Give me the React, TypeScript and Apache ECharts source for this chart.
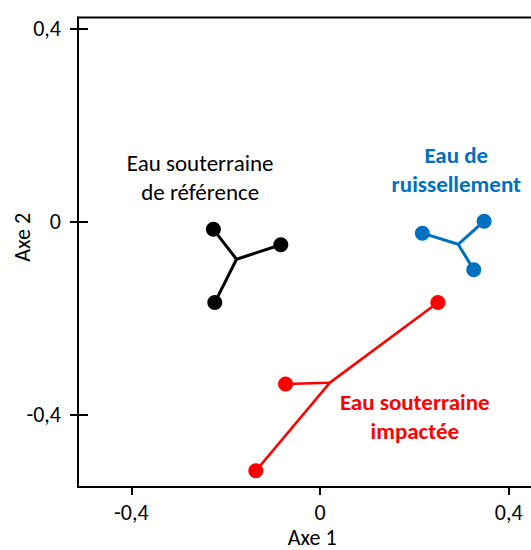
import React, { useEffect, useRef } from "react";
import * as echarts from "echarts";

// Tick values
const xTicks = [-0.4, 0, 0.4];
const yTicks = [-0.4, 0, 0.4];

// Groups: centroid + member points
const refCenter = [-0.177, -0.078];
const refPoints = [
  [-0.226, -0.016],
  [-0.083, -0.048],
  [-0.223, -0.168],
];
const runoffCenter = [0.293, -0.047];
const runoffPoints = [
  [0.217, -0.024],
  [0.348, 0.001],
  [0.326, -0.1],
];
const impactCenter = [0.021, -0.334];
const impactPoints = [
  [0.25, -0.168],
  [-0.073, -0.337],
  [-0.136, -0.517],
];

// Group labels
const groupNames = [
  "Eau souterraine\nde référence",
  "Eau de\nruissellement",
  "Eau souterraine\nimpactée",
];
const groupLabelPos = [
  [-0.254, 0.092],
  [0.289, 0.108],
  [0.201, -0.405],
];
const groupColors = ["#000000", "#0070C0", "#FF0000"];
const groupBold = [false, true, true];

const FONT = "Carlito, Lato, 'Open Sans', sans-serif";

export default function App() {
  const ref = useRef<HTMLDivElement>(null);
  useEffect(() => {
    if (!ref.current) return;
    const chart = echarts.init(ref.current, null, { renderer: "svg" });
    const fmt = (v: number) => String(Math.round(v * 10) / 10).replace(".", ",");
    const groups = [
      { c: refCenter, p: refPoints },
      { c: runoffCenter, p: runoffPoints },
      { c: impactCenter, p: impactPoints },
    ];
    const series: any[] = [];
    groups.forEach((g, i) => {
      series.push({
        type: "lines",
        coordinateSystem: "cartesian2d",
        xAxisIndex: 0,
        yAxisIndex: 0,
        data: g.p.map((pt) => ({ coords: [g.c, pt] })),
        lineStyle: { color: groupColors[i], width: i === 2 ? 2.5 : 3, opacity: 1 },
        silent: true,
      });
      series.push({
        type: "scatter",
        xAxisIndex: 0,
        yAxisIndex: 0,
        data: g.p,
        symbol: "circle",
        symbolSize: 15,
        itemStyle: { color: groupColors[i], opacity: 1 },
        z: 3,
      });
    });
    series.push({
      type: "scatter",
      xAxisIndex: 0,
      yAxisIndex: 0,
      symbolSize: 0,
      itemStyle: { opacity: 1 },
      data: groupLabelPos.map((p, i) => ({
        value: p,
        name: groupNames[i],
        label: {
          show: true,
          position: "inside",
          formatter: groupNames[i],
          color: groupColors[i],
          fontWeight: groupBold[i] ? "bold" : "normal",
          fontSize: 23,
          lineHeight: 29,
          fontFamily: FONT,
          align: "center",
          verticalAlign: "middle",
        },
      })),
      silent: true,
    });

    chart.setOption({
      animation: false,
      backgroundColor: "#ffffff",
      grid: {
        left: 78,
        top: 17.5,
        bottom: 63,
        width: 468.4,
        show: true,
        borderColor: "#000",
        borderWidth: 2,
        backgroundColor: "transparent",
        containLabel: false,
        outerBoundsMode: "none",
      },
      xAxis: {
        type: "value",
        min: -0.513,
        max: 0.48,
        name: "Axe 1",
        nameLocation: "middle",
        nameGap: 39,
        nameMoveOverlap: false,
        nameTextStyle: { fontSize: 22, color: "#000", fontFamily: FONT },
        axisLine: { show: true, onZero: false, lineStyle: { color: "#000", width: 2 } },
        axisTick: { show: true, customValues: xTicks, length: 8, lineStyle: { color: "#000", width: 2 } },
        axisLabel: {
          customValues: xTicks,
          formatter: fmt,
          fontSize: 22,
          color: "#000",
          fontFamily: FONT,
          margin: 14,
        },
        splitLine: { show: false },
      },
      yAxis: [
        {
          type: "value",
          min: -0.5505,
          max: 0.4234,
          name: "Axe 2",
          nameLocation: "middle",
          nameGap: 45,
          nameMoveOverlap: false,
          nameTextStyle: {
            fontSize: 22,
            color: "#000",
            fontFamily: FONT,
            padding: [0, 0, 0, 30],
          },
          axisLine: { show: true, onZero: false, lineStyle: { color: "#000", width: 2 } },
          axisTick: { show: true, customValues: yTicks, length: 8, lineStyle: { color: "#000", width: 2 } },
          axisLabel: {
            customValues: yTicks,
            formatter: fmt,
            fontSize: 22,
            color: "#000",
            fontFamily: FONT,
            margin: 17,
          },
          splitLine: { show: false },
        },
        {
          type: "value",
          min: -0.5505,
          max: 0.4234,
          position: "left",
          offset: 0,
          axisLine: { show: false, onZero: false },
          axisTick: {
            show: true,
            inside: true,
            customValues: yTicks,
            length: 10,
            lineStyle: { color: "#000", width: 2 },
          },
          axisLabel: { show: false },
          splitLine: { show: false },
        },
      ],
      series,
    });
    return () => chart.dispose();
  }, []);
  return (
    <div
      ref={ref}
      style={{ position: "absolute", left: 0, top: 0, width: 531, height: 550 }}
    />
  );
}
